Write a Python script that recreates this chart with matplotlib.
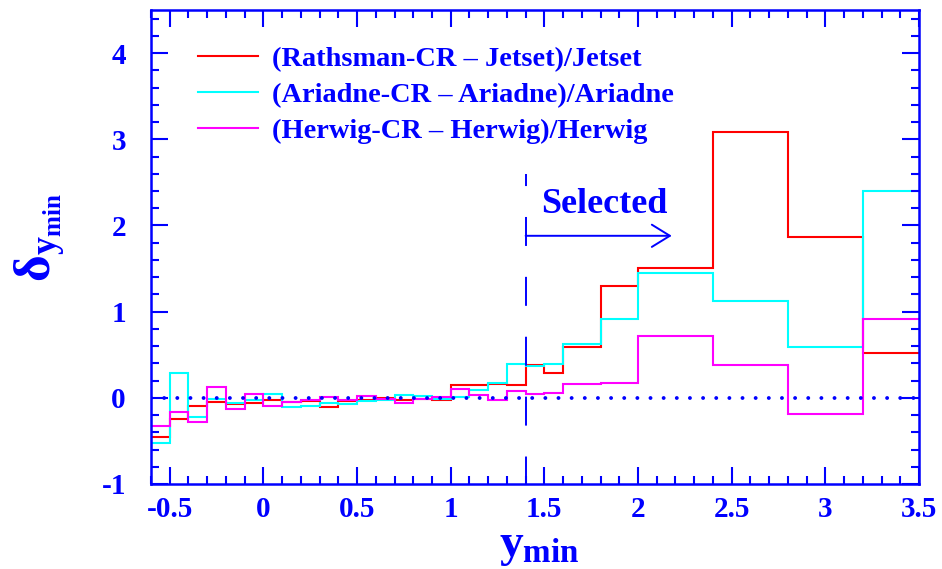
import matplotlib
matplotlib.use("Agg")
import matplotlib.pyplot as plt
from matplotlib.ticker import MultipleLocator, FixedLocator

# Bin edges in y_min (fine bins below 1.4, wider bins above)
edges = [-0.6, -0.5, -0.4, -0.3, -0.2, -0.1, 0.0, 0.1, 0.2, 0.3, 0.4,
         0.5, 0.6, 0.7, 0.8, 0.9, 1.0, 1.1, 1.2, 1.3, 1.4,
         1.5, 1.6, 1.8, 2.0, 2.4, 2.8, 3.2, 3.5]

# Relative differences per bin
rathsman = [-0.46, -0.24, -0.095, -0.05, -0.07, -0.06, -0.03, -0.05, -0.04, -0.11,
            -0.04, -0.02, 0.0, -0.03, -0.01, -0.02, 0.145, 0.145, 0.165, 0.15,
            0.385, 0.29, 0.59, 1.30, 1.51, 3.09, 1.865, 0.52]
ariadne = [-0.53, 0.29, -0.22, -0.01, -0.06, -0.02, 0.04, -0.11, -0.10, -0.065,
           -0.07, -0.04, -0.03, 0.03, 0.02, -0.01, 0.01, 0.087, 0.17, 0.39,
           0.375, 0.396, 0.63, 0.92, 1.45, 1.12, 0.586, 2.40]
herwig = [-0.33, -0.165, -0.28, 0.12, -0.13, 0.04, -0.09, -0.05, -0.02, 0.01,
          -0.02, 0.025, -0.01, -0.06, -0.01, 0.01, 0.10, 0.03, -0.03, 0.08,
          0.05, 0.058, 0.155, 0.168, 0.72, 0.385, -0.183, 0.91]

labels = ["(Rathsman-CR \u2013 Jetset)/Jetset",
          "(Ariadne-CR \u2013 Ariadne)/Ariadne",
          "(Herwig-CR \u2013 Herwig)/Herwig"]
colors = ["#ff0000", "#00ffff", "#ff00ff"]

x_ticks = [-0.5, 0, 0.5, 1, 1.5, 2, 2.5, 3, 3.5]
x_ticklabels = ["-0.5", "0", "0.5", "1", "1.5", "2", "2.5", "3", "3.5"]
y_ticks = [-1, 0, 1, 2, 3, 4]
y_ticklabels = ["-1", "0", "1", "2", "3", "4"]

cut = 1.4          # selection cut
cut_top = 2.6      # top of the cut marker
arrow_y = 1.88
arrow_end = 2.18

BLUE = "#0000ff"

plt.rcParams.update({
    "font.family": ["Liberation Serif", "DejaVu Serif"],
    "font.weight": "bold",
    "mathtext.fontset": "custom",
    "mathtext.rm": "Liberation Serif:bold",
    "mathtext.it": "Liberation Serif:bold",
    "mathtext.bf": "Liberation Serif:bold",
})

W, H = 942, 569
fig = plt.figure(figsize=(W / 100, H / 100), dpi=100)
ax = fig.add_axes([151 / W, (H - 484) / H, 768 / W, 474 / H])

for vals, col, lab in zip([rathsman, ariadne, herwig], colors, labels):
    ax.stairs(vals, edges, color=col, linewidth=1.5, label=lab, baseline=None)

# zero reference
ax.axhline(0, color=BLUE, linewidth=2.8, linestyle=(0, (0.01, 3.37)),
           dash_capstyle="round", zorder=1)

# selection cut and arrow
ax.plot([cut, cut], [cut_top, -1], color=BLUE, linewidth=1.4,
        linestyle=(8.7, (14.9, 15.9)), zorder=3)
ax.annotate("", xy=(arrow_end, arrow_y), xytext=(cut, arrow_y),
            arrowprops=dict(arrowstyle="->,head_length=0.65,head_width=0.4",
                            color=BLUE, lw=1.4, mutation_scale=20,
                            shrinkA=0, shrinkB=0))
ax.text(1.82, 2.15, "Selected", color=BLUE, fontsize=26, fontweight="bold",
        ha="center", va="baseline")

ax.set_xlim(-0.6, 3.5)
ax.set_ylim(-1, 4.5)

ax.xaxis.set_major_locator(FixedLocator(x_ticks))
ax.set_xticklabels(x_ticklabels)
ax.yaxis.set_major_locator(FixedLocator(y_ticks))
ax.set_yticklabels(y_ticklabels)
ax.xaxis.set_minor_locator(MultipleLocator(0.1))
ax.yaxis.set_minor_locator(MultipleLocator(0.2))

ax.tick_params(which="both", direction="in", top=True, right=True,
               color=BLUE, width=1.5, labelcolor=BLUE)
ax.tick_params(which="major", length=12)
ax.tick_params(which="minor", length=6)
ax.tick_params(axis="x", which="major", pad=8.5, labelsize=21)
ax.tick_params(axis="y", which="major", pad=18, labelsize=21)
for sp in ax.spines.values():
    sp.set_color(BLUE)
    sp.set_linewidth(1.8)

ax.set_xlabel(r"$\mathrm{y_{min}}$", color=BLUE, fontsize=34)
ax.xaxis.set_label_coords((539 - 151) / 768, -(526 - 484) / 474)
ax.set_ylabel(r"$\mathrm{\delta_{y_{min}}}$", color=BLUE, fontsize=37)
ax.yaxis.set_label_coords(-(151 - 68) / 768, (484 - 238) / 474)

leg = ax.legend(loc="upper left", bbox_to_anchor=((198 - 151) / 768, (484 - 46) / 474),
                frameon=False, fontsize=20.4, handlelength=2.1, handletextpad=0.5,
                labelspacing=0.36, borderpad=0, borderaxespad=0)
for t in leg.get_texts():
    t.set_color(BLUE)

fig.savefig("out.png", dpi=100)
